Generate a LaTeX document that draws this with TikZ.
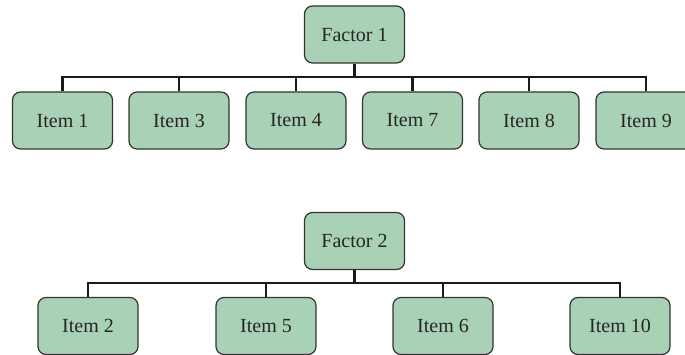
\documentclass[tikz,border=0pt]{standalone}
\usepackage{fontspec}
\setmainfont{Liberation Serif}
\definecolor{boxfill}{HTML}{A9D1B5}
\definecolor{boxline}{HTML}{333333}
\definecolor{conn}{HTML}{1A1A1A}
\begin{document}
\begin{tikzpicture}[x=1pt,y=-1pt,
  box/.style={draw=boxline,fill=boxfill,line width=1.2pt,rounded corners=8pt,
    minimum width=100pt,minimum height=57pt,inner sep=0pt,
    font=\fontsize{20}{24}\selectfont,text=black!85},
  link/.style={draw=conn,line width=2.2pt}]
\clip (0,0) rectangle (685,355);
\fill[white] (0,0) rectangle (685,355);
% first tree
\node[box] (f1) at (354.5,34.5) {Factor 1};
\coordinate (b1) at (354.5,77);
\node[box] (i1) at (62.5,120.5) {Item 1};
\node[box] (i3) at (179,120.5) {Item 3};
\node[box] (i4) at (296,120.5) {Item 4};
\node[box] (i7) at (412.5,120.5) {Item 7};
\node[box] (i8) at (529,120.5) {Item 8};
\node[box] (i9) at (646,120.5) {Item 9};
\draw[link] (f1.south) -- (b1);
\foreach \n in {i1,i3,i4,i7,i8,i9} \draw[link] (\n.north) |- (b1);
% second tree
\node[box] (f2) at (354.5,241) {Factor 2};
\coordinate (b2) at (354.5,283);
\node[box] (i2) at (88,326) {Item 2};
\node[box] (i5) at (266,326) {Item 5};
\node[box] (i6) at (443,326) {Item 6};
\node[box] (i10) at (620,326) {Item 10};
\draw[link] (f2.south) -- (b2);
\foreach \n in {i2,i5,i6,i10} \draw[link] (\n.north) |- (b2);
\end{tikzpicture}
\end{document}
